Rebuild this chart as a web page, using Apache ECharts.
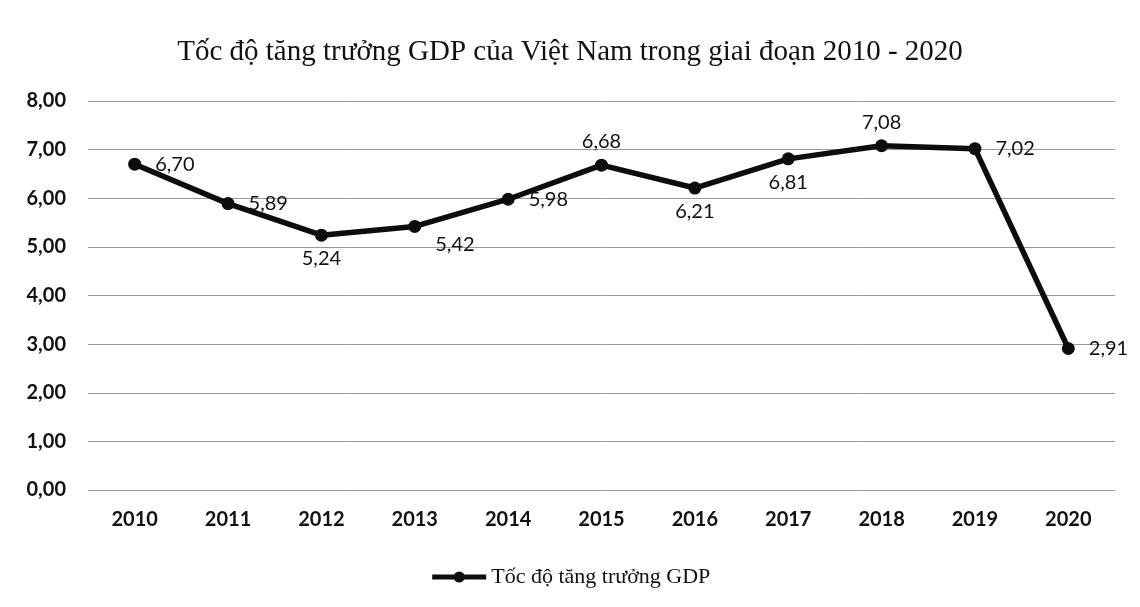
<!DOCTYPE html>
<html>
<head>
<meta charset="utf-8">
<script src="https://cdn.jsdelivr.net/npm/echarts@6/dist/echarts.min.js"></script>
<style>
    html, body { margin: 0; padding: 0; background: #fff; }
    #chart { width: 1140px; height: 607px; }
</style>
</head>
<body>
<div id="chart"></div>
<script>
const years = ['2010', '2011', '2012', '2013', '2014', '2015', '2016', '2017', '2018', '2019', '2020'];
const gdpGrowth = [6.70, 5.89, 5.24, 5.42, 5.98, 6.68, 6.21, 6.81, 7.08, 7.02, 2.91];
const labelPos = ['right', 'right', 'bottom', 'right', 'right', 'top', 'bottom', 'bottom', 'top', 'right', 'right'];
const seriesName = 'Tốc độ tăng trưởng GDP';

const fmt = v => v.toFixed(2).replace('.', ',');

const gridLine = {
    show: true,
    lineStyle: {
        color: '#9a9a9a',
        width: 1,
        type: 'solid'
    }
}

const chart = echarts.init(document.getElementById('chart'));
chart.setOption({
    backgroundColor: '#fff',
    title: {
        text: 'Tốc độ tăng trưởng GDP của Việt Nam trong giai đoạn 2010 - 2020',
        left: 'center',
        top: 33,
        textStyle: {
            fontFamily: 'Liberation Serif',
            fontWeight: 'normal',
            fontSize: 29,
            color: '#111'
        }
    },
    legend: {
        top: 561,
        left: 'center',
        itemWidth: 54,
        itemHeight: 14,
        itemGap: 3,
        lineStyle: { width: 5 },
        textStyle: {
            fontFamily: 'Liberation Serif',
            fontSize: 22,
            color: '#111'
        },
        data: [seriesName]
    },
    grid: {
        left: 88,
        right: 25,
        top: 101,
        bottom: 117
    },
    xAxis: {
        type: 'category',
        boundaryGap: true,
        data: years,
        axisLine: { show: false },
        axisTick: { show: false },
        axisLabel: {
            margin: 20,
            fontFamily: 'Lato',
            fontWeight: 'bold',
            fontSize: 20,
            color: '#111'
        }
    },
    yAxis: {
        type: 'value',
        min: 0,
        max: 8,
        interval: 1,
        axisLine: { show: false },
        axisTick: { show: false },
        splitLine: gridLine,
        axisLabel: {
            margin: 22,
            formatter: v => fmt(v),
            fontFamily: 'Lato',
            fontWeight: 'bold',
            fontSize: 20,
            color: '#111'
        }
    },
    series: [
        {
            name: seriesName,
            type: 'line',
            symbol: 'circle',
            symbolSize: 13,
            color: '#0d0d0d',
            lineStyle: {
                color: '#0d0d0d',
                width: 5.5
            },
            label: {
                show: true,
                formatter: p => fmt(p.value),
                fontFamily: 'Lato',
                fontSize: 20,
                color: '#111',
                distance: 7
            },
            data: gdpGrowth.map((v, i) => ({
                value: v,
                label: {
                    position: labelPos[i],
                    distance: labelPos[i] === 'right' ? 14 : 7,
                    offset: i === 3 ? [0, 18] : [0, 0]
                }
            }))
        }
    ]
});
</script>
</body>
</html>
